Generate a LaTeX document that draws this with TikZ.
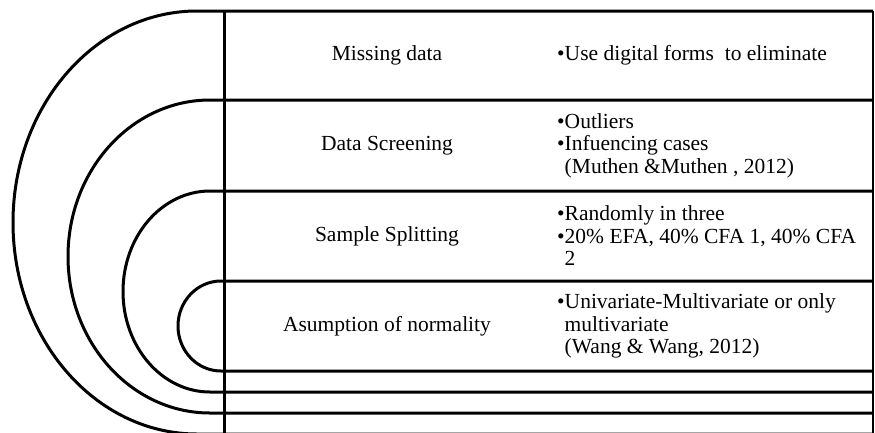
\documentclass[tikz,border=0pt]{standalone}
\usepackage{fontspec}
\setmainfont{Liberation Serif}
\begin{document}
\begin{tikzpicture}[x=1pt,y=-1pt,
  band/.style={line width=3pt, line join=round},
  frame/.style={line width=1.6pt},
  rowname/.style={font=\fontsize{21.5}{22.5}\selectfont, inner sep=0pt, anchor=center},
  rowtext/.style={font=\fontsize{21.5}{22.5}\selectfont, inner sep=0pt, anchor=west, align=left}]
\useasboundingbox (0,0) rectangle (875,432);

% nested half-ellipse bands, each running on as a rule across the table
\draw[band] (873,11)  -- (197,11)  arc[start angle=90,end angle=270,x radius=184pt,y radius=211.5pt] -- (873,434);
\draw[band] (873,100) -- (210,100) arc[start angle=90,end angle=270,x radius=142pt,y radius=156.5pt] -- (873,413);
\draw[band] (873,191) -- (210,191) arc[start angle=90,end angle=270,x radius=87pt,y radius=100.5pt]  -- (873,392);
\draw[band] (873,281) -- (221,281) arc[start angle=90,end angle=270,x radius=43pt,y radius=45pt]     -- (873,371);

% spine and right border of the table
\draw[band]  (224,10) -- (224,440);
\draw[frame] (873,11) -- (873,440);

% step names
\node[rowname] (l1) at (387,55.5) {Missing data};
\node[rowname] (l2) at (387,145.5) {Data Screening};
\node[rowname] (l3) at (387,236) {Sample Splitting};
\node[rowname] (l4) at (387,326) {Asumption of normality};

% step notes
\node[rowtext] (n1) at (557,55.5) {•Use digital forms~ to eliminate};
\node[rowtext] (n2) at (557,145.5) {•Outliers\\•Infuencing cases\\\hphantom{•}(Muthen \&Muthen , 2012)};
\node[rowtext] (n3) at (557,236) {•Randomly in three\\•20\% EFA, 40\% CFA 1, 40\% CFA\\\hphantom{•}2};
\node[rowtext] (n4) at (557,326) {•Univariate-Multivariate or only\\\hphantom{•}multivariate\\\hphantom{•}(Wang \& Wang, 2012)};
\end{tikzpicture}
\end{document}
